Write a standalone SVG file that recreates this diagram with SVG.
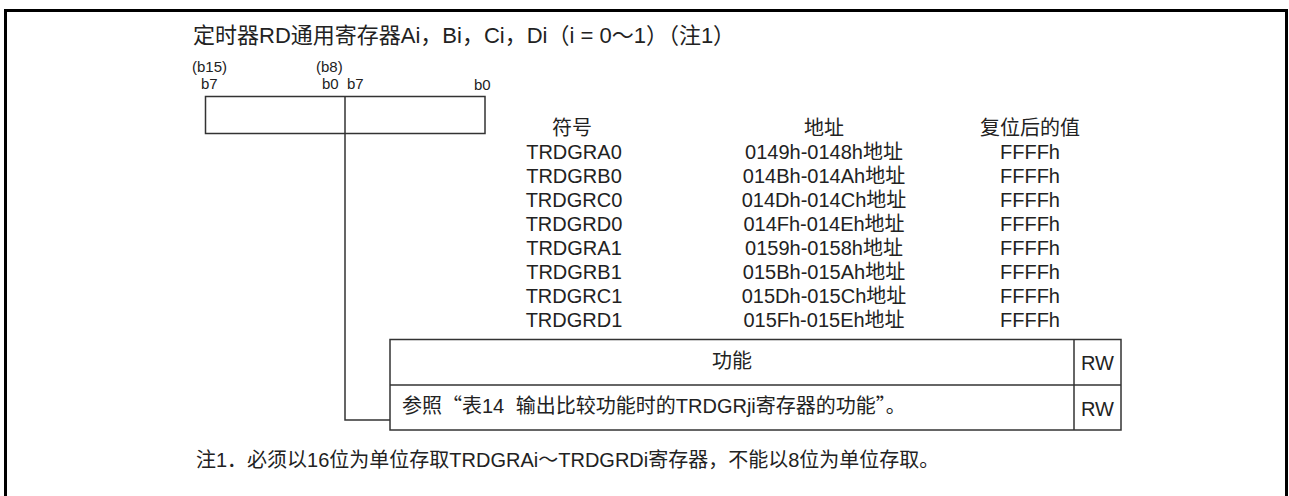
<svg xmlns="http://www.w3.org/2000/svg" width="1289" height="496" viewBox="0 0 1289 496">
<defs>
<style>
text{font-family:"Liberation Sans","Noto Sans CJK SC",sans-serif;fill:#222;font-size:20px}
.bit{font-size:15px}
.ttl{font-size:22px}
.m{text-anchor:middle}
.cjk{font-family:"Noto Sans CJK SC",sans-serif}
.ln{fill:none;stroke:#333;stroke-width:1.5}
.frame{fill:none;stroke:#000;stroke-width:3}
</style>
</defs>
<rect width="1289" height="496" fill="#fff"/>
<path class="frame" d="M5.5 496 V10.5 H1286.5 V496"/>
<text id="title" class="ttl" x="193" y="43">定时器RD通用寄存器Ai，Bi，Ci，Di（i = 0～1）（注1）</text>
<g id="register">
<rect class="ln" x="205.5" y="96.5" width="279.5" height="37"/>
<line class="ln" x1="345" y1="96.5" x2="345" y2="133.5"/>
<text class="bit" x="192" y="72">(b15)</text>
<text class="bit" x="201" y="88.5">b7</text>
<text class="bit" x="316" y="72">(b8)</text>
<text class="bit" x="322" y="88.5">b0</text>
<text class="bit" x="347" y="88.5">b7</text>
<text class="bit" x="474" y="90">b0</text>
</g>
<g id="address-table">
<text class="m" x="572" y="134.5">符号</text>
<text class="m" x="824" y="134.5">地址</text>
<text class="m" x="1030" y="134.5">复位后的值</text>
<text class="m" x="574" y="158.5">TRDGRA0</text>
<text class="m" x="824" y="158.5">0149h-0148h地址</text>
<text class="m" x="1030" y="158.5">FFFFh</text>
<text class="m" x="574" y="182.5">TRDGRB0</text>
<text class="m" x="824" y="182.5">014Bh-014Ah地址</text>
<text class="m" x="1030" y="182.5">FFFFh</text>
<text class="m" x="574" y="206.5">TRDGRC0</text>
<text class="m" x="824" y="206.5">014Dh-014Ch地址</text>
<text class="m" x="1030" y="206.5">FFFFh</text>
<text class="m" x="574" y="230.5">TRDGRD0</text>
<text class="m" x="824" y="230.5">014Fh-014Eh地址</text>
<text class="m" x="1030" y="230.5">FFFFh</text>
<text class="m" x="574" y="254.5">TRDGRA1</text>
<text class="m" x="824" y="254.5">0159h-0158h地址</text>
<text class="m" x="1030" y="254.5">FFFFh</text>
<text class="m" x="574" y="278.5">TRDGRB1</text>
<text class="m" x="824" y="278.5">015Bh-015Ah地址</text>
<text class="m" x="1030" y="278.5">FFFFh</text>
<text class="m" x="574" y="302.5">TRDGRC1</text>
<text class="m" x="824" y="302.5">015Dh-015Ch地址</text>
<text class="m" x="1030" y="302.5">FFFFh</text>
<text class="m" x="574" y="326.5">TRDGRD1</text>
<text class="m" x="824" y="326.5">015Fh-015Eh地址</text>
<text class="m" x="1030" y="326.5">FFFFh</text>
</g>
<g id="function-table">
<rect class="ln" x="390" y="339.5" width="731" height="90.5"/>
<line class="ln" x1="390" y1="385" x2="1121" y2="385"/>
<line class="ln" x1="1074" y1="339.5" x2="1074" y2="430"/>
<text class="m" x="732" y="368">功能</text>
<text class="m" x="1097.5" y="370">RW</text>
<text x="402" y="413">参照<tspan class="cjk">“</tspan>表14 <tspan dx="6">输出比较功能时的TRDGRji寄存器的功能</tspan><tspan class="cjk">”</tspan>。</text>
<text class="m" x="1097.5" y="416">RW</text>
</g>
<g id="connectors">
<polyline class="ln" points="345,133.5 345,420 390,420"/>
</g>
<text id="note" x="196" y="467">注1．必须以16位为单位存取TRDGRAi～TRDGRDi寄存器，不能以8位为单位存取。</text>
</svg>
